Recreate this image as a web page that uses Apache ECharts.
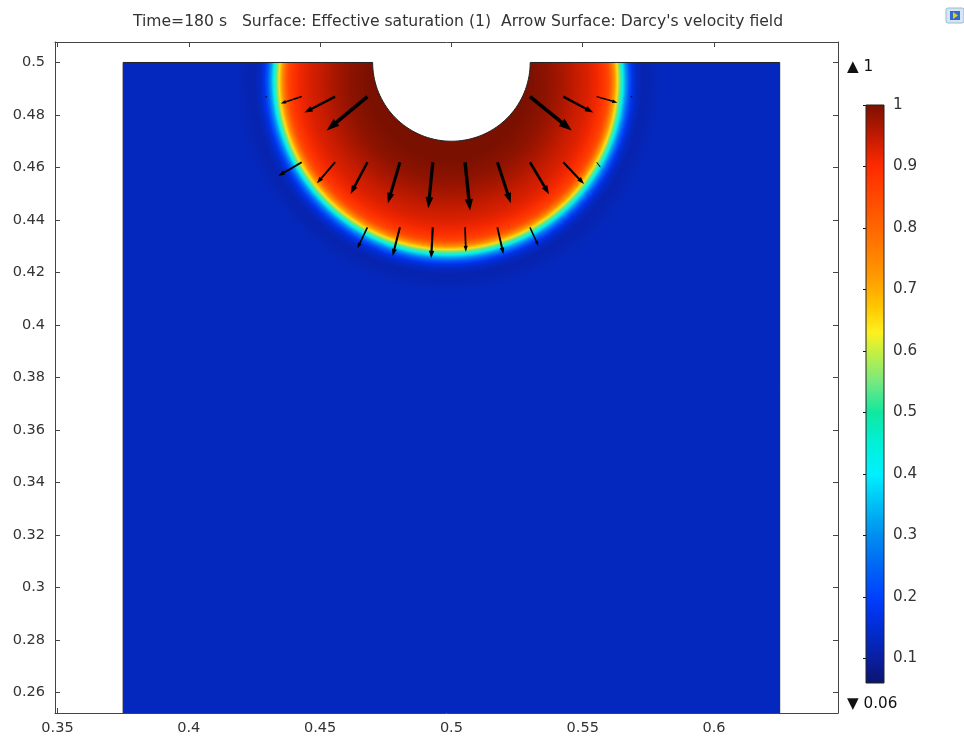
<!DOCTYPE html>
<html>
<head>
<meta charset="utf-8">
<script src="https://cdn.jsdelivr.net/npm/echarts@6/dist/echarts.min.js"></script>
<style>
  html, body { margin: 0; padding: 0; background: #ffffff; }
  #chart { width: 964px; height: 740px; }
</style>
</head>
<body>
<div id="chart"></div>
<script>
// ---- Geometry of the soil column (m) ----
const domainX = [0.375, 0.625];
const domainY = [0.25, 0.5];
const holeCenter = [0.5, 0.5];
const holeRadius = 0.03;

// ---- Effective saturation, radial profile around the wetted bulb ----
const frontCenter = [0.4988, 0.4932];
const profileR = [0, 0.030, 0.038, 0.044, 0.049, 0.053, 0.0567, 0.0594, 0.0610, 0.0621, 0.0633, 0.0644, 0.0654, 0.0665, 0.0676, 0.0688, 0.0701, 0.0717, 0.0740, 0.0772, 0.0812];
const profileS = [1.00, 1.00, 0.985, 0.965, 0.945, 0.93, 0.91, 0.88, 0.85, 0.80, 0.73, 0.65, 0.54, 0.42, 0.31, 0.23, 0.17, 0.135, 0.115, 0.12, 0.13];

// ---- Darcy velocity arrows: tail position (m) and velocity (x1e-3, arrow units) ----
const arrowX = [0.4297, 0.4430, 0.4557, 0.4680, 0.5299, 0.5426, 0.5553, 0.5684,
                0.4430, 0.4557, 0.4680, 0.4804, 0.4929, 0.5052, 0.5175, 0.5299, 0.5426, 0.5553,
                0.4680, 0.4804, 0.4929, 0.5052, 0.5175, 0.5299];
const arrowY = [0.487, 0.487, 0.487, 0.487, 0.487, 0.487, 0.487, 0.487,
                0.462, 0.462, 0.462, 0.462, 0.462, 0.462, 0.462, 0.462, 0.462, 0.462,
                0.4372, 0.4372, 0.4372, 0.4372, 0.4372, 0.4372];
const velU = [-0.8, -8.0, -11.7, -15.5, 15.9, 11.4, 7.9, 0.6,
              -8.9, -6.9, -6.4, -4.6, -1.7, 1.9, 5.1, 7.3, 7.9, 1.5,
              -3.8, -2.8, -0.6, 0.3, 2.3, 3.2];
const velV = [-0.2, -2.6, -6.1, -12.9, -12.9, -6.1, -2.3, -0.2,
              -5.2, -8.0, -12.1, -15.6, -17.5, -18.5, -15.6, -12.2, -8.3, -2.0,
              -8.0, -10.9, -11.8, -9.3, -10.2, -7.0];
const arrowScale = 0.001;

// ---- Axis ticks ----
const xTicks = [0.35, 0.4, 0.45, 0.5, 0.55, 0.6];
const yTicks = [0.26, 0.28, 0.3, 0.32, 0.34, 0.36, 0.38, 0.4, 0.42, 0.44, 0.46, 0.48, 0.5];
const barTicks = [0.1, 0.2, 0.3, 0.4, 0.5, 0.6, 0.7, 0.8, 0.9, 1];
const rangeMin = 0.06, rangeMax = 1;

// ---- Rainbow colour table ----
const cmapValues = [0.06, 0.10, 0.13, 0.17, 0.20, 0.25, 0.30, 0.35, 0.40, 0.45, 0.50, 0.55, 0.60, 0.63, 0.67, 0.72, 0.80, 0.90, 0.95, 1.00];
const cmapColors = ['#0a1470', '#0a1ea0', '#0428be', '#0032e8', '#0040ff', '#0066f5', '#008ef0', '#00bef5', '#00f0ff', '#00f0d8',
                    '#10e8a0', '#78e880', '#c8f040', '#fff020', '#ffc800', '#ff9a00', '#ff6600', '#ff2a00', '#c01a00', '#7a1000'];

function hexToRgb(h) {
  return [parseInt(h.slice(1, 3), 16), parseInt(h.slice(3, 5), 16), parseInt(h.slice(5, 7), 16)];
}
function colorAt(v) {
  if (v <= cmapValues[0]) return cmapColors[0];
  for (let i = 1; i < cmapValues.length; i++) {
    if (v <= cmapValues[i]) {
      const t = (v - cmapValues[i - 1]) / (cmapValues[i] - cmapValues[i - 1]);
      const a = hexToRgb(cmapColors[i - 1]), b = hexToRgb(cmapColors[i]);
      return 'rgb(' + a.map((c, k) => Math.round(c + (b[k] - c) * t)).join(',') + ')';
    }
  }
  return cmapColors[cmapColors.length - 1];
}
function fmt(v) { return String(parseFloat(v.toFixed(3))); }

const FONT = 'DejaVu Sans';
const TXT = '#333333';
const AX = '#444444';

const chart = echarts.init(document.getElementById('chart'), null, { renderer: 'canvas' });

const arrowData = arrowX.map((x, i) => [x, arrowY[i], velU[i], velV[i]]);

const option = {
  animation: false,
  backgroundColor: '#ffffff',
  grid: [
    { left: 55, right: 126, top: 42, bottom: 27 },
    { left: 866, top: 105, width: 18, height: 578 }
  ],
  xAxis: [
    {
      gridIndex: 0, type: 'value', min: 0.34905, max: 0.6472, position: 'bottom',
      axisLine: { show: true, onZero: false, lineStyle: { color: AX, width: 1 } },
      axisTick: { show: true, inside: true, length: 5, customValues: xTicks, lineStyle: { color: AX } },
      axisLabel: { show: true, customValues: xTicks, formatter: fmt, color: TXT, fontFamily: FONT, fontSize: 14.5, margin: 8 },
      splitLine: { show: false }
    },
    {
      gridIndex: 0, type: 'value', min: 0.34905, max: 0.6472, position: 'top',
      axisLine: { show: true, onZero: false, lineStyle: { color: AX, width: 1 } },
      axisTick: { show: true, inside: true, length: 5, customValues: xTicks, lineStyle: { color: AX } },
      axisLabel: { show: false },
      splitLine: { show: false }
    },
    { gridIndex: 1, type: 'value', min: 0, max: 1, show: false }
  ],
  yAxis: [
    {
      gridIndex: 0, type: 'value', min: 0.2522, max: 0.5078, position: 'left',
      axisLine: { show: true, onZero: false, lineStyle: { color: AX, width: 1 } },
      axisTick: { show: true, inside: true, length: 5, customValues: yTicks, lineStyle: { color: AX } },
      axisLabel: { show: true, customValues: yTicks, formatter: fmt, color: TXT, fontFamily: FONT, fontSize: 14.5, margin: 10 },
      splitLine: { show: false }
    },
    {
      gridIndex: 0, type: 'value', min: 0.2522, max: 0.5078, position: 'right',
      axisLine: { show: true, onZero: false, lineStyle: { color: AX, width: 1 } },
      axisTick: { show: true, inside: true, length: 5, customValues: yTicks, lineStyle: { color: AX } },
      axisLabel: { show: false },
      splitLine: { show: false }
    },
    {
      gridIndex: 1, type: 'value', min: rangeMin, max: rangeMax, position: 'right',
      axisLine: { show: false },
      axisTick: { show: true, inside: true, length: 3, customValues: barTicks, lineStyle: { color: '#111' } },
      axisLabel: { show: true, customValues: barTicks, formatter: fmt, color: TXT, fontFamily: FONT, fontSize: 15.2, margin: 9 },
      splitLine: { show: false }
    },
    {
      gridIndex: 1, type: 'value', min: rangeMin, max: rangeMax, position: 'left',
      axisLine: { show: false },
      axisTick: { show: true, inside: true, length: 3, customValues: barTicks, lineStyle: { color: '#111' } },
      axisLabel: { show: false },
      splitLine: { show: false }
    }
  ],
  graphic: [
    {
      type: 'text', x: 458, y: 22,
      style: {
        text: "Time=180 s   Surface: Effective saturation (1)  Arrow Surface: Darcy's velocity field",
        fill: TXT, font: '15.6px "' + FONT + '"', align: 'center', verticalAlign: 'middle'
      }
    },
    { type: 'text', x: 847, y: 67, style: { text: '\u25B2 1', fill: '#111', font: '15.2px "' + FONT + '"', align: 'left', verticalAlign: 'middle' } },
    { type: 'text', x: 847, y: 704, style: { text: '\u25BC 0.06', fill: '#111', font: '15.2px "' + FONT + '"', align: 'left', verticalAlign: 'middle' } },
    {
      type: 'group', x: 946, y: 8,
      children: [
        { type: 'rect', shape: { x: 0, y: 0, width: 18, height: 15, r: 2 }, style: { fill: '#d6e4f4', stroke: '#9db8d8', lineWidth: 1 } },
        { type: 'rect', shape: { x: 4, y: 3, width: 10, height: 9 }, style: { fill: '#2d6fc4' } },
        { type: 'polygon', shape: { points: [[7, 4], [12, 7.5], [7, 11]] }, style: { fill: '#f2c81c' } }
      ]
    }
  ],
  series: [
    {
      // saturation surface over the column with the source cut-out
      type: 'custom',
      xAxisIndex: 0, yAxisIndex: 0,
      clip: true,
      data: [[domainX[0], domainY[0]]],
      renderItem: function (params, api) {
        const pts = [
          api.coord([domainX[0], domainY[0]]),
          api.coord([domainX[1], domainY[0]]),
          api.coord([domainX[1], domainY[1]])
        ];
        const n = 72;
        for (let k = 0; k <= n; k++) {
          const th = Math.PI * k / n;
          pts.push(api.coord([holeCenter[0] + holeRadius * Math.cos(th), holeCenter[1] - holeRadius * Math.sin(th)]));
        }
        pts.push(api.coord([domainX[0], domainY[1]]));
        const c = api.coord(frontCenter);
        const rMax = profileR[profileR.length - 1];
        const rPx = api.size([rMax, 0])[0];
        const stops = profileR.map((r, i) => ({ offset: r / rMax, color: colorAt(profileS[i]) }));
        return {
          type: 'polygon',
          shape: { points: pts },
          style: {
            fill: new echarts.graphic.RadialGradient(c[0], c[1], rPx, stops, true),
            stroke: '#222222', lineWidth: 1
          }
        };
      }
    },
    {
      // Darcy velocity arrows
      type: 'custom',
      xAxisIndex: 0, yAxisIndex: 0,
      data: arrowData,
      renderItem: function (params, api) {
        const x = api.value(0), y = api.value(1), u = api.value(2), v = api.value(3);
        const p0 = api.coord([x, y]);
        const p1 = api.coord([x + u * arrowScale, y + v * arrowScale]);
        const dx = p1[0] - p0[0], dy = p1[1] - p0[1];
        const L = Math.sqrt(dx * dx + dy * dy);
        if (L < 0.5) return null;
        const ux = dx / L, uy = dy / L;
        const nx = -uy, ny = ux;
        const headLen = Math.max(2, 0.24 * L);
        const headW = Math.max(1.5, 0.17 * L) / 2;
        const shaftW = Math.max(1, 0.07 * L);
        const bx = p1[0] - ux * headLen, by = p1[1] - uy * headLen;
        return {
          type: 'group',
          children: [
            {
              type: 'line',
              shape: { x1: p0[0], y1: p0[1], x2: bx + ux * 0.5, y2: by + uy * 0.5 },
              style: { stroke: '#000000', lineWidth: shaftW, lineCap: 'butt' }
            },
            {
              type: 'polygon',
              shape: { points: [[p1[0], p1[1]], [bx + nx * headW, by + ny * headW], [bx - nx * headW, by - ny * headW]] },
              style: { fill: '#000000' }
            }
          ]
        };
      }
    },
    {
      // colour legend bar
      type: 'custom',
      xAxisIndex: 2, yAxisIndex: 2,
      data: [[0, rangeMin]],
      renderItem: function (params, api) {
        const a = api.coord([0, rangeMin]);
        const b = api.coord([1, rangeMax]);
        const stops = cmapValues.map((v, i) => ({ offset: (v - rangeMin) / (rangeMax - rangeMin), color: cmapColors[i] }));
        return {
          type: 'rect',
          shape: { x: a[0], y: b[1], width: b[0] - a[0], height: a[1] - b[1] },
          style: {
            fill: new echarts.graphic.LinearGradient(0, 1, 0, 0, stops),
            stroke: '#222222', lineWidth: 1
          }
        };
      }
    }
  ]
};

chart.setOption(option);
</script>
</body>
</html>
